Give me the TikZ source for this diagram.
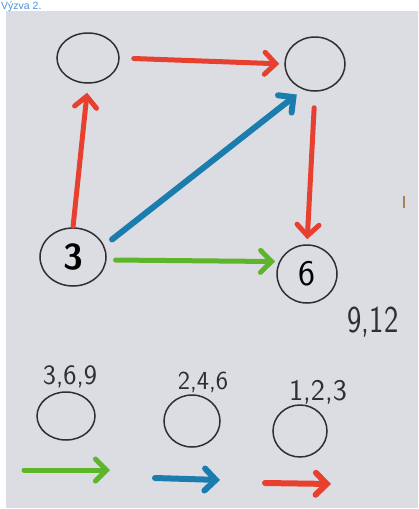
\documentclass[tikz,border=0pt]{standalone}
\usepackage{fontspec}
\setmainfont{Liberation Sans}
\usetikzlibrary{arrows.meta,shapes.geometric}
\definecolor{paper}{HTML}{DCDDE2}
\definecolor{ink}{HTML}{2E2E33}
\definecolor{mred}{HTML}{E8402F}
\definecolor{mblue}{HTML}{1A7DAE}
\definecolor{mgreen}{HTML}{5DB52A}
\definecolor{titleblue}{HTML}{4A90E2}
\tikzset{
  vert/.style={ellipse, draw=ink, line width=1.5pt, inner sep=0pt, font=\sffamily},
  marker/.style={line width=5pt, line cap=round, -{Straight Barb[length=11pt,width=22pt,line cap=round]}},
  hand/.style={font=\sffamily, text=ink},
}
\begin{document}
\begin{tikzpicture}[x=1pt,y=-1pt]
\useasboundingbox (0,0) rectangle (418,509);
\clip (0,0) rectangle (418,509);
\fill[white] (0,0) rectangle (418,509);
\fill[paper] (6,11) rectangle (418,508);
\node[anchor=base west, inner sep=0pt, text=titleblue, font=\fontsize{10.5}{11}\selectfont] (title) at (1,9.3) {Výzva 2.};
% vertices
\node[vert, minimum width=62pt, minimum height=50pt] (tl) at (88,58) {};
\node[vert, minimum width=60pt, minimum height=54pt] (tr) at (315,64) {};
\node[vert, minimum width=66pt, minimum height=58pt, font=\sffamily\bfseries\fontsize{36}{36}\selectfont] (bl) at (73,257) {3};
\node[vert, minimum width=60pt, minimum height=58pt, font=\sffamily\fontsize{36}{36}\selectfont] (br) at (307,274) {6};
% edges
\draw[marker, mred] (tl.east) -- (tr.west) [shorten <=14pt, shorten >=5pt];
\draw[marker, mred] (bl.north) -- (tl.south) [shorten <=1pt, shorten >=9pt];
\draw[marker, mblue, line width=6pt] (bl.20) -- (tr.245) [shorten <=10pt, shorten >=8pt];
\draw[marker, mred] (tr.south) -- (br.north) [shorten <=16pt, shorten >=5pt];
\draw[marker, mgreen] (bl.-5) -- (br.156) [shorten <=9pt, shorten >=4pt];
% side notes
\node[hand, font=\sffamily\fontsize{38}{38}\selectfont, xscale=0.8] (nums) at (373,322) {9,12};
\draw[line width=1.5pt, draw=brown!60!gray] (404,196) -- (404,208);
% legend
\node[hand, font=\sffamily\fontsize{28}{28}\selectfont] (l1) at (70,377) {3,6,9};
\node[hand, font=\sffamily\fontsize{26}{26}\selectfont] (l2) at (203,382) {2,4,6};
\node[hand, font=\sffamily\fontsize{30}{30}\selectfont] (l3) at (318,392) {1,2,3};
\node[vert, minimum width=58pt, minimum height=48pt] (c1) at (66,416) {};
\node[vert, minimum width=56pt, minimum height=52pt] (c2) at (192,421) {};
\node[vert, minimum width=54pt, minimum height=52pt] (c3) at (300,431) {};
\coordinate (g1) at (24,470);
\coordinate (g2) at (110,470);
\coordinate (b1) at (155,478);
\coordinate (b2) at (220,480);
\coordinate (r1) at (265,483);
\coordinate (r2) at (331,484);
\draw[marker, mgreen] (g1) -- (g2);
\draw[marker, mblue, line width=6pt] (b1) -- (b2);
\draw[marker, mred, line width=6pt] (r1) -- (r2);
\end{tikzpicture}
\end{document}
